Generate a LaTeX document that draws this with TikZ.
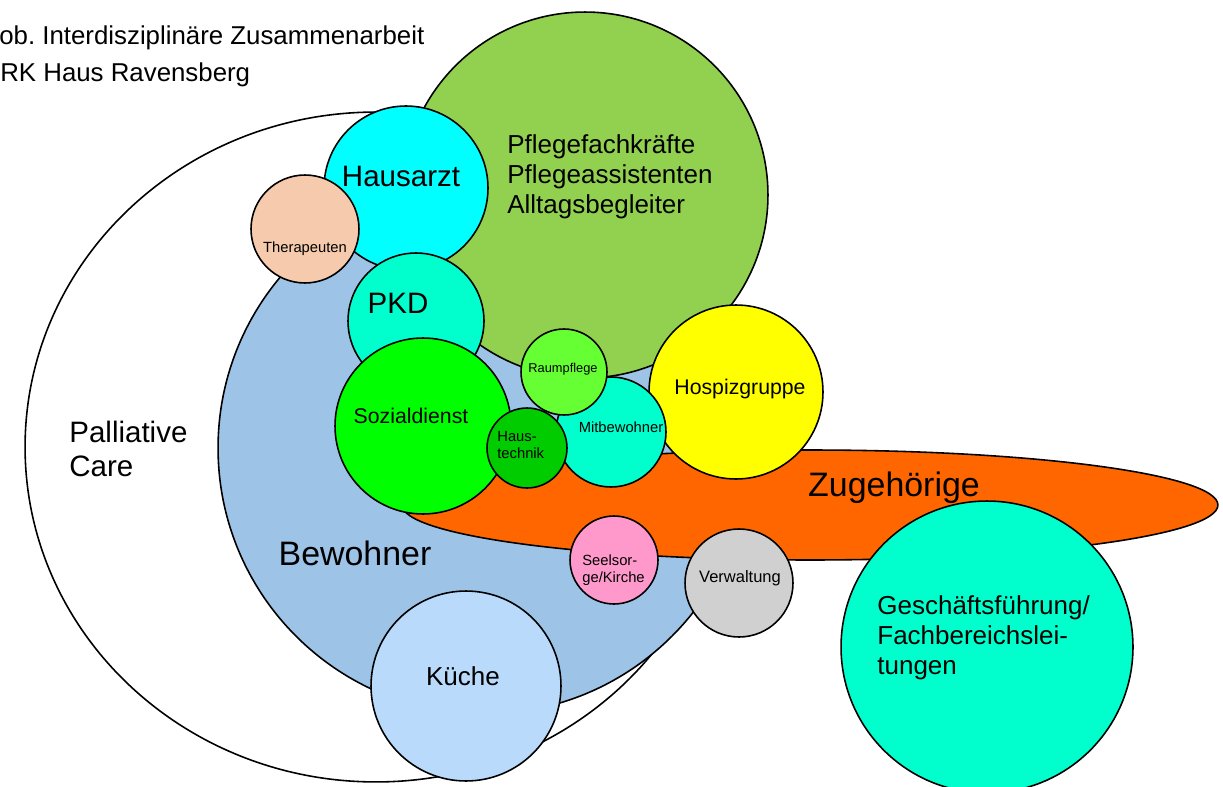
\documentclass[tikz,border=0pt]{standalone}
\usepackage{fontspec}
\setmainfont{Liberation Sans}
\usetikzlibrary{shapes.geometric}
\frenchspacing

\definecolor{pflegegreen}{HTML}{92D050}
\definecolor{hausarztcyan}{HTML}{00FFFF}
\definecolor{therapeach}{HTML}{F6CAAC}
\definecolor{mint}{HTML}{00FFCC}
\definecolor{sozialgreen}{HTML}{00FF00}
\definecolor{technikgreen}{HTML}{00CC00}
\definecolor{raumgreen}{HTML}{66FF33}
\definecolor{hospizyellow}{HTML}{FFFF00}
\definecolor{zugehorange}{HTML}{FF6600}
\definecolor{bewohnerblue}{HTML}{9DC3E6}
\definecolor{kuecheblue}{HTML}{B9DAFA}
\definecolor{seelpink}{HTML}{FF99CC}
\definecolor{verwgray}{HTML}{D0D0D0}

\begin{document}
\begin{tikzpicture}[
	x=0.02cm, y=-0.02cm,
	bubble/.style={circle, draw, line width=0.9pt, inner sep=0pt},
	region/.style={ellipse, draw, line width=0.9pt, inner sep=0pt},
	lbl/.style={inner sep=0pt, align=left},
	titletext/.style={lbl, font=\fontsize{14.7}{20}\selectfont},
	hugetext/.style={lbl, font=\fontsize{19.3}{22}\selectfont},
	bigtext/.style={lbl, font=\fontsize{16.8}{19.3}\selectfont},
	midtext/.style={lbl, font=\fontsize{14.8}{17}\selectfont},
	smalltext/.style={lbl, font=\fontsize{12.1}{14}\selectfont},
	tinytext/.style={lbl, font=\fontsize{8.4}{9.7}\selectfont}
]
\useasboundingbox (0,0) rectangle (1223,787);

% Large regions
\node[region, fill=white, minimum width=14.04cm, minimum height=13.4cm] (palliative) at (376,447) {};
\node[bubble, fill=bewohnerblue, minimum size=10.64cm] (bewohner) at (484,448) {};
\node[bubble, fill=pflegegreen, minimum size=7.32cm] (pflege) at (585,195) {};
\node[region, fill=zugehorange, minimum width=16.32cm, minimum height=2.2cm] (zugehoerige) at (810,505) {};

% Circles
\node[bubble, fill=hausarztcyan, minimum size=3.28cm] (hausarzt) at (406,188) {};
\node[bubble, fill=therapeach, minimum size=2.16cm] (therapeuten) at (305,229) {};
\node[bubble, fill=mint, minimum size=2.72cm] (pkd) at (416,321) {};
\node[bubble, fill=sozialgreen, minimum size=3.52cm] (sozial) at (423,426) {};
\node[bubble, fill=hospizyellow, minimum size=3.48cm] (hospiz) at (736,392) {};
\node[bubble, fill=mint, minimum size=2.2cm] (mitbewohner) at (611,432) {};
\node[bubble, fill=raumgreen, minimum size=1.72cm] (raumpflege) at (564,372) {};
\node[bubble, fill=technikgreen, minimum size=1.6cm] (haustechnik) at (527,448) {};
\node[bubble, fill=seelpink, minimum size=1.76cm] (seelsorge) at (614,560) {};
\node[bubble, fill=verwgray, minimum size=2.16cm] (verwaltung) at (739,583) {};
\node[bubble, fill=kuecheblue, minimum size=3.8cm] (kueche) at (466,686) {};
\node[bubble, fill=mint, minimum size=5.84cm] (gf) at (987,647) {};

% Title
\node[titletext, anchor=base west] (title1) at (-1,45) {ob. Interdisziplinäre Zusammenarbeit};
\node[titletext, anchor=base west] (title2) at (0,82) {RK Haus Ravensberg};

% Labels
\node[bigtext, anchor=west] (palliativetext) at (69,449) {Palliative\\[-0.3pt]Care};
\node[hugetext, anchor=base] (bewohnertext) at (355,565) {Bewohner};
\node[hugetext, anchor=base] (zugehtext) at (894,496) {Zugehörige};
\node[midtext, anchor=west] (pflegetext) at (507,177) {Pflegefachkräfte\\Pflegeassistenten\\Alltagsbegleiter};
\node[bigtext, anchor=base] (hausarzttext) at (401,187) {Hausarzt};
\node[tinytext, anchor=base] (therapeutentext) at (305,253) {Therapeuten};
\node[bigtext, anchor=base] (pkdtext) at (398,313) {PKD};
\node[smalltext, anchor=base] (sozialtext) at (411,423) {Sozialdienst};
\node[lbl, anchor=base, font=\fontsize{7.3}{9}\selectfont] (raumtext) at (563,372) {Raumpflege};
\node[tinytext, anchor=base] (mitbewohnertext) at (621,432) {Mitbewohner};
\node[tinytext, anchor=west] (technitext) at (497,445) {Haus-\\technik};
\node[smalltext, anchor=base] (hospiztext) at (740,394) {Hospizgruppe};
\node[tinytext, anchor=west] (seelsorgetext) at (582,570) {Seelsor-\\ge/Kirche};
\node[lbl, anchor=base, font=\fontsize{9.4}{11}\selectfont] (verwaltungtext) at (740,582) {Verwaltung};
\node[midtext, anchor=base] (kuechetext) at (463,685) {Küche};
\node[midtext, anchor=west] (gftext) at (877,638) {Geschäftsführung/\\Fachbereichslei-\\tungen};

\end{tikzpicture}
\end{document}
